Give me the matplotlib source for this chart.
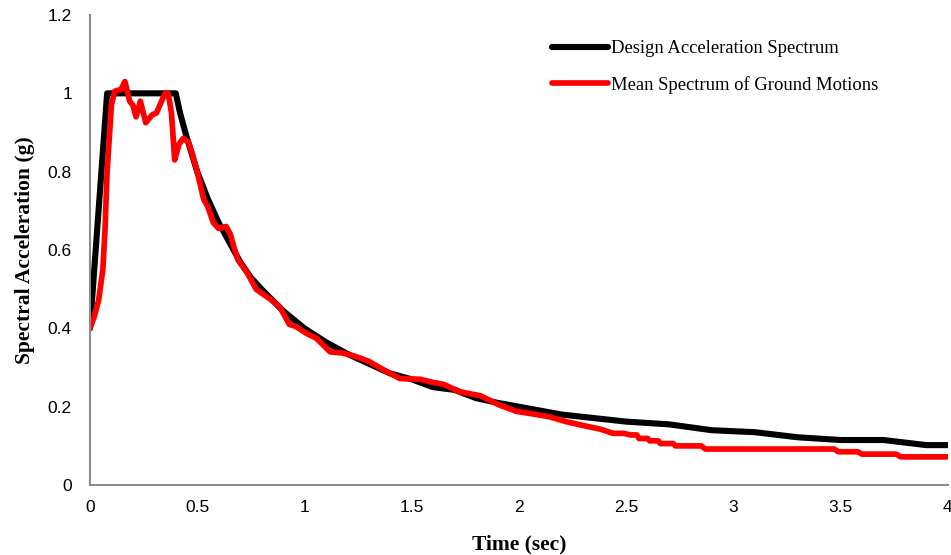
import numpy as np
import matplotlib
matplotlib.use('Agg')
import matplotlib.pyplot as plt
from matplotlib.ticker import FuncFormatter, MultipleLocator

# design spectrum (period in sec, Sa in g)
design_T = [0.0, 0.08, 0.40, 0.42, 0.45, 0.50, 0.55, 0.60, 0.65, 0.70, 0.75, 0.80,
            0.90, 1.00, 1.10, 1.20, 1.30, 1.40, 1.50, 1.60, 1.70, 1.80, 1.90, 2.00,
            2.20, 2.40, 2.50, 2.70, 2.90, 3.10, 3.30, 3.50, 3.70, 3.90, 4.00]
design_Sa = [0.40, 1.00, 1.00, 0.95, 0.89, 0.80, 0.73, 0.67, 0.62, 0.57, 0.53, 0.50,
             0.445, 0.40, 0.365, 0.335, 0.31, 0.285, 0.27, 0.25, 0.243, 0.222, 0.21, 0.20,
             0.18, 0.168, 0.162, 0.155, 0.14, 0.135, 0.122, 0.115, 0.115, 0.102, 0.102]

# mean spectrum of the scaled ground motions
mean_T = [0.00, 0.02, 0.04, 0.06, 0.07, 0.08, 0.10, 0.115, 0.145, 0.163, 0.185, 0.20,
          0.215, 0.235, 0.26, 0.29, 0.31, 0.33, 0.35, 0.365, 0.38, 0.395, 0.415, 0.435,
          0.46, 0.48, 0.50, 0.53, 0.55, 0.575, 0.60, 0.635, 0.655, 0.67, 0.69, 0.73,
          0.775, 0.80, 0.84, 0.885, 0.93, 0.96, 1.01, 1.055, 1.12, 1.18, 1.24, 1.30,
          1.35, 1.40, 1.445, 1.54, 1.60, 1.65, 1.725, 1.82, 1.87, 1.91, 1.99, 2.05,
          2.145, 2.22, 2.30, 2.378, 2.44, 2.49, 2.52, 2.55, 2.56, 2.60, 2.61, 2.65,
          2.66, 2.72, 2.73, 2.85, 2.87, 3.47, 3.49, 3.58, 3.60, 3.76, 3.78, 4.00]
mean_Sa = [0.40, 0.43, 0.47, 0.55, 0.65, 0.80, 0.97, 1.005, 1.01, 1.03, 0.98, 0.97,
           0.94, 0.98, 0.925, 0.945, 0.95, 0.975, 1.00, 1.00, 0.95, 0.83, 0.87, 0.885,
           0.875, 0.84, 0.80, 0.73, 0.71, 0.67, 0.655, 0.66, 0.64, 0.61, 0.575, 0.545,
           0.50, 0.49, 0.475, 0.455, 0.41, 0.405, 0.387, 0.375, 0.34, 0.337, 0.328, 0.316,
           0.30, 0.285, 0.272, 0.270, 0.262, 0.257, 0.238, 0.228, 0.215, 0.204, 0.188, 0.183,
           0.174, 0.162, 0.152, 0.143, 0.132, 0.132, 0.128, 0.128, 0.119, 0.119, 0.113, 0.113,
           0.106, 0.106, 0.100, 0.100, 0.092, 0.092, 0.085, 0.085, 0.079, 0.079, 0.072, 0.072]

fig = plt.figure(figsize=(9.51, 5.55), dpi=100)
ax = fig.add_axes([0.0946, 0.126, 0.902, 0.847])

ax.plot(design_T, design_Sa, color='black', lw=4.4, solid_joinstyle='round',
        solid_capstyle='round', label='Design Acceleration Spectrum')
ax.plot(mean_T, mean_Sa, color='#ff0000', lw=4.1, solid_joinstyle='round',
        solid_capstyle='round', label='Mean Spectrum of Ground Motions')

ax.set_xlim(0, 4)
ax.set_ylim(0, 1.2)
ax.xaxis.set_major_locator(MultipleLocator(0.5))
ax.yaxis.set_major_locator(MultipleLocator(0.2))
fmt = FuncFormatter(lambda v, pos: '{:g}'.format(round(v, 2)))
ax.xaxis.set_major_formatter(fmt)
ax.yaxis.set_major_formatter(fmt)

for side in ['top', 'right']:
    ax.spines[side].set_visible(False)
for side in ['left', 'bottom']:
    ax.spines[side].set_color('#8c8c8c')
    ax.spines[side].set_linewidth(1.5)
ax.tick_params(axis='x', length=0, labelsize=12.5, labelcolor='black', pad=11)
ax.tick_params(axis='y', length=0, labelsize=12.5, labelcolor='black', pad=13)
for lab in ax.get_xticklabels() + ax.get_yticklabels():
    lab.set_family('Liberation Sans')

ax.set_xlabel('Time (sec)', family='Liberation Serif', weight='bold', fontsize=15.5, labelpad=14)
ax.set_ylabel('Spectral Acceleration (g)', family='Liberation Serif', weight='bold',
              fontsize=15.5, labelpad=9)

leg = ax.legend(loc='upper left', bbox_to_anchor=(0.519, 0.982), frameon=False,
                prop={'family': 'Liberation Serif', 'size': 13.4}, handlelength=3.0,
                handletextpad=0.15, labelspacing=1.0)

fig.savefig('out.png', dpi=100)
